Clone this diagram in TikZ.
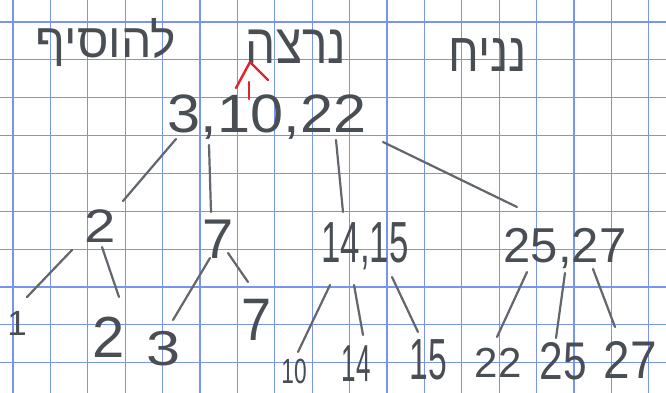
\documentclass[tikz,border=0pt]{standalone}
\usepackage{fontspec}
\setmainfont{Liberation Sans}
\newfontfamily\hebfont[Script=Hebrew]{Liberation Sans}
\TeXXeTstate=1
\usetikzlibrary{calc}
\definecolor{gridblue}{RGB}{118,148,240}
\definecolor{pencil}{RGB}{72,78,84}
\definecolor{lead}{RGB}{98,103,109}
\definecolor{redpen}{RGB}{225,35,45}
\begin{document}
\begin{tikzpicture}[x=1pt,y=-1pt,
  hw/.style={font=\fontsize{#1}{#1}\selectfont, text=pencil, inner sep=0pt, anchor=base},
  link/.style={draw=lead, line width=2.2pt, line cap=round},
  gridline/.style={draw=gridblue, line width=1.2pt},
  caret/.style={draw=redpen, line width=2.4pt, line cap=round, line join=round}]
\useasboundingbox (0,0) rectangle (666,393);
\fill[white] (0,0) rectangle (666,393);
\foreach \k in {0,...,17} \draw[gridline] ({12.9+37.4*\k},0) -- ({12.9+37.4*\k},393);
\foreach \k in {0,...,9} \draw[gridline] (0,{22+37.85*\k}) -- (666,{22+37.85*\k});

% Hebrew heading
\node[hw=48] (w1) at (106,58) {\hebfont\beginR להוסיף\endR};
\node[hw=56] (w2) at (296,64) {\scalebox{0.85}[1]{\hebfont\beginR נרצה\endR}};
\node[hw=55] (w3) at (488,72) {\scalebox{0.85}[1]{\hebfont\beginR נניח\endR}};

% red insertion mark
\coordinate (ins) at (249,99);
\draw[caret] (ins) -- ++(0,-17);
\draw[caret] ($(ins)+(-13,-11)$) -- ($(ins)+(1,-37)$) -- ($(ins)+(19,-19)$);

% tree nodes
\node[hw=54] (root) at (267,132) {\scalebox{1.1}[1]{3,10,22}};
\node[hw=47] (n2) at (100,242) {\scalebox{1.2}[1]{2}};
\node[hw=56] (n7) at (218,258) {7};
\node[hw=58] (n14) at (365,262) {\scalebox{0.6}[1]{14,15}};
\node[hw=49] (n25) at (565,262) {25,27};

\node[hw=35] (l1) at (17,335) {1};
\node[hw=58] (l2) at (109,357) {2};
\node[hw=49] (l3) at (164,365) {\scalebox{1.25}[1]{3}};
\node[hw=60] (l7) at (257,340) {\scalebox{0.9}[1]{7}};
\node[hw=35] (l10) at (294,383) {\scalebox{0.65}[1]{10}};
\node[hw=52] (l14) at (356,381) {\scalebox{0.5}[1]{14}};
\node[hw=58] (l15) at (428,379) {\scalebox{0.58}[1]{15}};
\node[hw=42] (l22) at (498,377) {22};
\node[hw=53] (l25) at (563,379) {\scalebox{0.8}[1]{25}};
\node[hw=53] (l27) at (630,378) {\scalebox{0.9}[1]{27}};

% connectors
\draw[link] ([shift={(-91,7)}]root.base) -- ([shift={(23,-41)}]n2.base);
\draw[link] ([shift={(-58,13)}]root.base) -- ([shift={(-7,-46)}]n7.base);
\draw[link] ([shift={(69,8)}]root.base) -- ([shift={(-22,-50)}]n14.base);
\draw[link] ([shift={(116,10)}]root.base) -- ([shift={(-48,-55)}]n25.base);

\draw[link] ([shift={(-28,8)}]n2.base) -- ([shift={(10,-38)}]l1.base);
\draw[link] ([shift={(2,5)}]n2.base) -- ([shift={(10,-60)}]l2.base);
\draw[link] ([shift={(-8,0)}]n7.base) -- ([shift={(9,-45)}]l3.base);
\draw[link] ([shift={(10,-5)}]n7.base) -- ([shift={(-9,-58)}]l7.base);

\draw[link] ([shift={(-35,23)}]n14.base) -- ([shift={(4,-31)}]l10.base);
\draw[link] ([shift={(-11,23)}]n14.base) -- ([shift={(7,-46)}]l14.base);
\draw[link] ([shift={(27,15)}]n14.base) -- ([shift={(-10,-47)}]l15.base);

\draw[link] ([shift={(-38,10)}]n25.base) -- ([shift={(-1,-40)}]l22.base);
\draw[link] ([shift={(0,11)}]n25.base) -- ([shift={(-7,-41)}]l25.base);
\draw[link] ([shift={(28,7)}]n25.base) -- ([shift={(-15,-51)}]l27.base);
\end{tikzpicture}
\end{document}
